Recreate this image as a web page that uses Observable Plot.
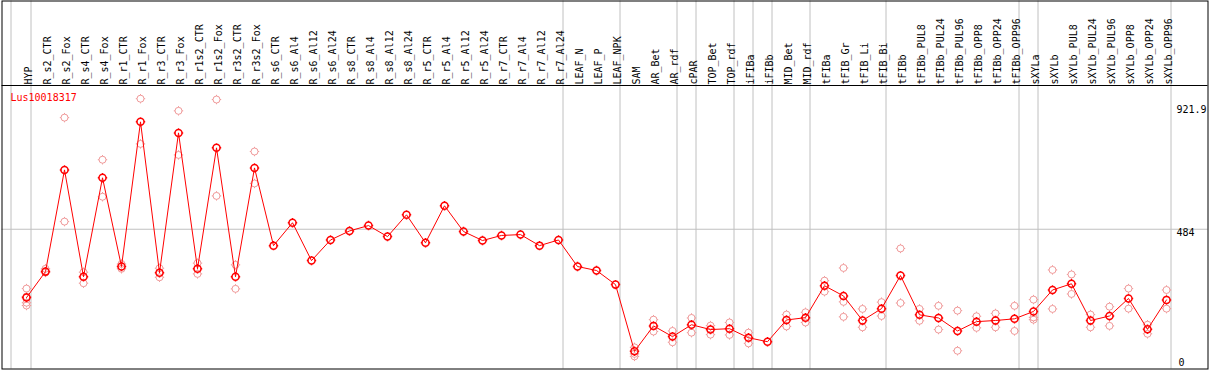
<!DOCTYPE html>
<html>
<head>
<meta charset="utf-8">
<script src="https://cdn.jsdelivr.net/npm/d3@7"></script>
<script src="https://cdn.jsdelivr.net/npm/@observablehq/plot@0.6"></script>
<style>
  html, body { margin: 0; padding: 0; background: #fff; }
  svg { display: block; }
</style>
</head>
<body>
<div id="chart"></div>
<script>
const geneName = "Lus10018317";

const samples = ["HYP","R_s2_CTR","R_s2_Fox","R_s4_CTR","R_s4_Fox","R_r1_CTR","R_r1_Fox","R_r3_CTR","R_r3_Fox",
  "R_r1s2_CTR","R_r1s2_Fox","R_r3s2_CTR","R_r3s2_Fox","R_s6_CTR","R_s6_Al4","R_s6_Al12","R_s6_Al24",
  "R_s8_CTR","R_s8_Al4","R_s8_Al12","R_s8_Al24","R_r5_CTR","R_r5_Al4","R_r5_Al12","R_r5_Al24",
  "R_r7_CTR","R_r7_Al4","R_r7_Al12","R_r7_Al24","LEAF_N","LEAF_P","LEAF_NPK","SAM","AR_Bet","AR_rdf",
  "cPAR","TOP_Bet","TOP_rdf","iFIBa","iFIBb","MID_Bet","MID_rdf","tFIBa","tFIB_Gr","tFIB_Li","tFIB_Bi",
  "tFIBb","tFIBb_PUL8","tFIBb_PUL24","tFIBb_PUL96","tFIBb_OPP8","tFIBb_OPP24","tFIBb_OPP96",
  "sXYLa","sXYLb","sXYLb_PUL8","sXYLb_PUL24","sXYLb_PUL96","sXYLb_OPP8","sXYLb_OPP24","sXYLb_OPP96"];

const meanValues = [242,334,694,316,666,352,864,330,825,344,772,316,701,426,507,373,446,
  478,497,458,535,436,567,476,444,462,465,426,446,352,338,288,52,142,104,
  146,129,132,100,86,163,171,284,248,161,203,
  320,181,170,124,157,161,167,
  193,269,291,161,177,239,130,234];

const replicateValues = [
  [274,246,224,214],[344,331],[879,511],[332,293],[730,599],[361,344],[946,786],[346,314],[903,747],
  [364,326],[943,602],[358,273],[759,646],[],[],[],[],
  [],[],[],[],[],[],[],[],
  [],[],[],[],[],[],[],[66,43,34],[164,122],[124,84],
  [170,118],[143,111],[154,110],[118,80],[],[182,140],[190,154],[302,263],[347,227,174],[202,137],[226,177],
  [416,223],[202,160],[213,129],[196,54],[176,135],[186,137],[213,124],
  [235,172,164],[340,202],[324,255],[182,137],[210,142],[274,203],[146,114],[269,203]
];

// group separators drawn just right of these samples
const separatorsAfter = ["HYP","R_r7_Al24","LEAF_NPK","AR_rdf","cPAR","TOP_rdf","iFIBa","iFIBb","MID_rdf","tFIB_Bi","tFIBb_OPP96","sXYLa","sXYLb_OPP96"];

const yTicks = [0, 484, 921.9];

// tables for the library
const meanData = samples.map((s, i) => ({sample: s, value: meanValues[i]}));
const repData = samples.flatMap((s, i) => replicateValues[i].map(v => ({sample: s, value: v})));

// circle with four small ticks
const tickCircle = {
  draw(context, size) {
    const r = Math.sqrt(size / Math.PI);
    context.moveTo(r, 0);
    context.arc(0, 0, r, 0, 2 * Math.PI);
    const t = 1.2;
    context.moveTo(0, -r - t); context.lineTo(0, -r);
    context.moveTo(0, r); context.lineTo(0, r + t);
    context.moveTo(-r - t, 0); context.lineTo(-r, 0);
    context.moveTo(r, 0); context.lineTo(r + t, 0);
  }
};

const font = "'DejaVu Sans Mono', monospace";

const chart = Plot.plot({
  width: 1209,
  height: 370,
  marginTop: 0.5,
  marginLeft: 1.5,
  marginRight: 1.5,
  marginBottom: 1.5,
  style: {fontFamily: font, fontSize: "10px", background: "#fff", color: "#000"},
  x: {type: "point", domain: samples, range: [26, 1166], padding: 0, axis: null},
  y: {domain: [0, 921.9], range: [365.5, 105], axis: null},
  marks: [
    Plot.ruleX(separatorsAfter, {x: d => d, dx: 4.5, stroke: "#c0c0c0", strokeWidth: 1}),
    Plot.ruleX(["HYP"], {x: d => d, dx: -15.5, stroke: "#c0c0c0", strokeWidth: 1}),
    Plot.ruleY([484], {stroke: "#c0c0c0", strokeWidth: 1}),
    Plot.frame({stroke: "#000", strokeWidth: 1}),
    Plot.text(samples, {x: d => d, frameAnchor: "top", dy: 83.5, dx: -1.5, rotate: -90, textAnchor: "start",
      fontFamily: font, fontSize: 10, fill: "#000"}),
    Plot.text([geneName], {frameAnchor: "top-left", dx: 8.5, dy: 96.5, textAnchor: "start", lineAnchor: "middle",
      fontFamily: font, fontSize: 10, fill: "#ff0000"}),
    Plot.text(yTicks.filter(d => d > 0), {y: d => d, text: d => String(d), frameAnchor: "right", dx: -31.5,
      textAnchor: "start", lineAnchor: "top", fontFamily: font, fontSize: 10, fill: "#000"}),
    Plot.text(yTicks.filter(d => d === 0), {y: d => d, text: d => String(d), frameAnchor: "right", dx: -29.5,
      textAnchor: "start", lineAnchor: "bottom", fontFamily: font, fontSize: 10, fill: "#000"}),
    Plot.dot(repData, {x: "sample", y: "value", r: 3.5, symbol: tickCircle, stroke: "#f09a9a", strokeWidth: 1, fill: "none"}),
    Plot.line(meanData, {x: "sample", y: "value", stroke: "#ff0000", strokeWidth: 1}),
    Plot.dot(meanData, {x: "sample", y: "value", r: 3.5, symbol: tickCircle, stroke: "#ff0000", strokeWidth: 1.5, fill: "none"})
  ]
});

// header separator line under the sample labels
d3.select(chart).append("line")
  .attr("x1", 1.5).attr("x2", 1207.5)
  .attr("y1", 85.5).attr("y2", 85.5)
  .attr("stroke", "#000").attr("stroke-width", 1);

document.getElementById("chart").appendChild(chart);
</script>
</body>
</html>
